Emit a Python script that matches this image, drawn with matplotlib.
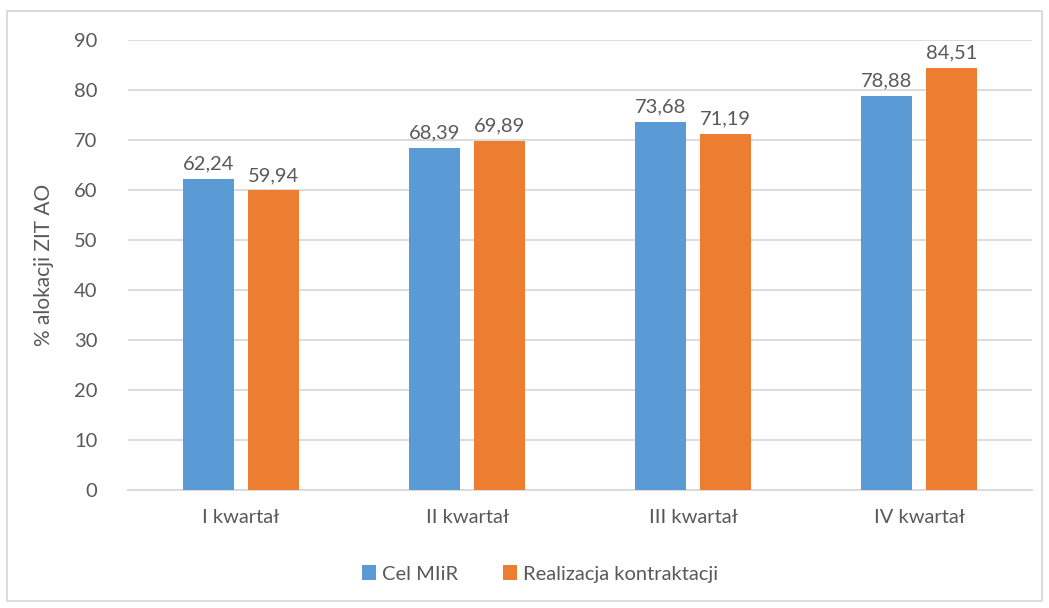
import numpy as np
import matplotlib.pyplot as plt
from matplotlib.patches import Rectangle

kwartaly = ["I kwartał", "II kwartał", "III kwartał", "IV kwartał"]
cel_miir = [62.24, 68.39, 73.68, 78.88]
realizacja = [59.94, 69.89, 71.19, 84.51]
y_ticks = [0, 10, 20, 30, 40, 50, 60, 70, 80, 90]

plt.rcParams['font.family'] = ['Lato', 'DejaVu Sans']
szary = '#595959'

fig = plt.figure(figsize=(10.49, 6.08), dpi=100)
ax = fig.add_axes([0.122, 0.194, 0.862, 0.740])

x = np.arange(len(kwartaly))
w = 0.226
d = 0.144
b1 = ax.bar(x - d, cel_miir, w, color='#5B9BD5', label='Cel MIiR', zorder=3)
b2 = ax.bar(x + d, realizacja, w, color='#ED7D31', label='Realizacja kontraktacji', zorder=3)

for bars in (b1, b2):
    for r in bars:
        ax.text(r.get_x() + r.get_width() / 2, r.get_height() + 1.3,
                f"{r.get_height():.2f}".replace('.', ','),
                ha='center', va='bottom', fontsize=14.5, color=szary)

ax.set_xlim(-0.5, 3.5)
ax.set_ylim(0, 90)
ax.set_yticks(y_ticks)
ax.set_xticks(x)
ax.set_xticklabels(kwartaly)
ax.tick_params(axis='both', length=0, labelsize=14.5, colors=szary)
ax.tick_params(axis='y', pad=22)
ax.tick_params(axis='x', pad=14)
ax.yaxis.grid(True, color='#D9D9D9', linewidth=1.3, zorder=0)
for s in ['top', 'right', 'left']:
    ax.spines[s].set_visible(False)
ax.spines['bottom'].set_color('#D9D9D9')
ax.spines['bottom'].set_linewidth(1.3)
ax.set_ylabel('% alokacji ZIT AO', fontsize=15, color=szary, labelpad=14)

leg = fig.legend(loc='center', bbox_to_anchor=(0.515, 0.056), ncol=2, frameon=False,
                 fontsize=14.5, handlelength=0.7, handleheight=0.7, handletextpad=0.3,
                 columnspacing=2.2)
for t in leg.get_texts():
    t.set_color(szary)

fig.patches.append(Rectangle((0.007, 0.012), 0.986, 0.97, transform=fig.transFigure,
                             fill=False, edgecolor='#D9D9D9', linewidth=1.3))

fig.savefig('out.png', dpi=100)
